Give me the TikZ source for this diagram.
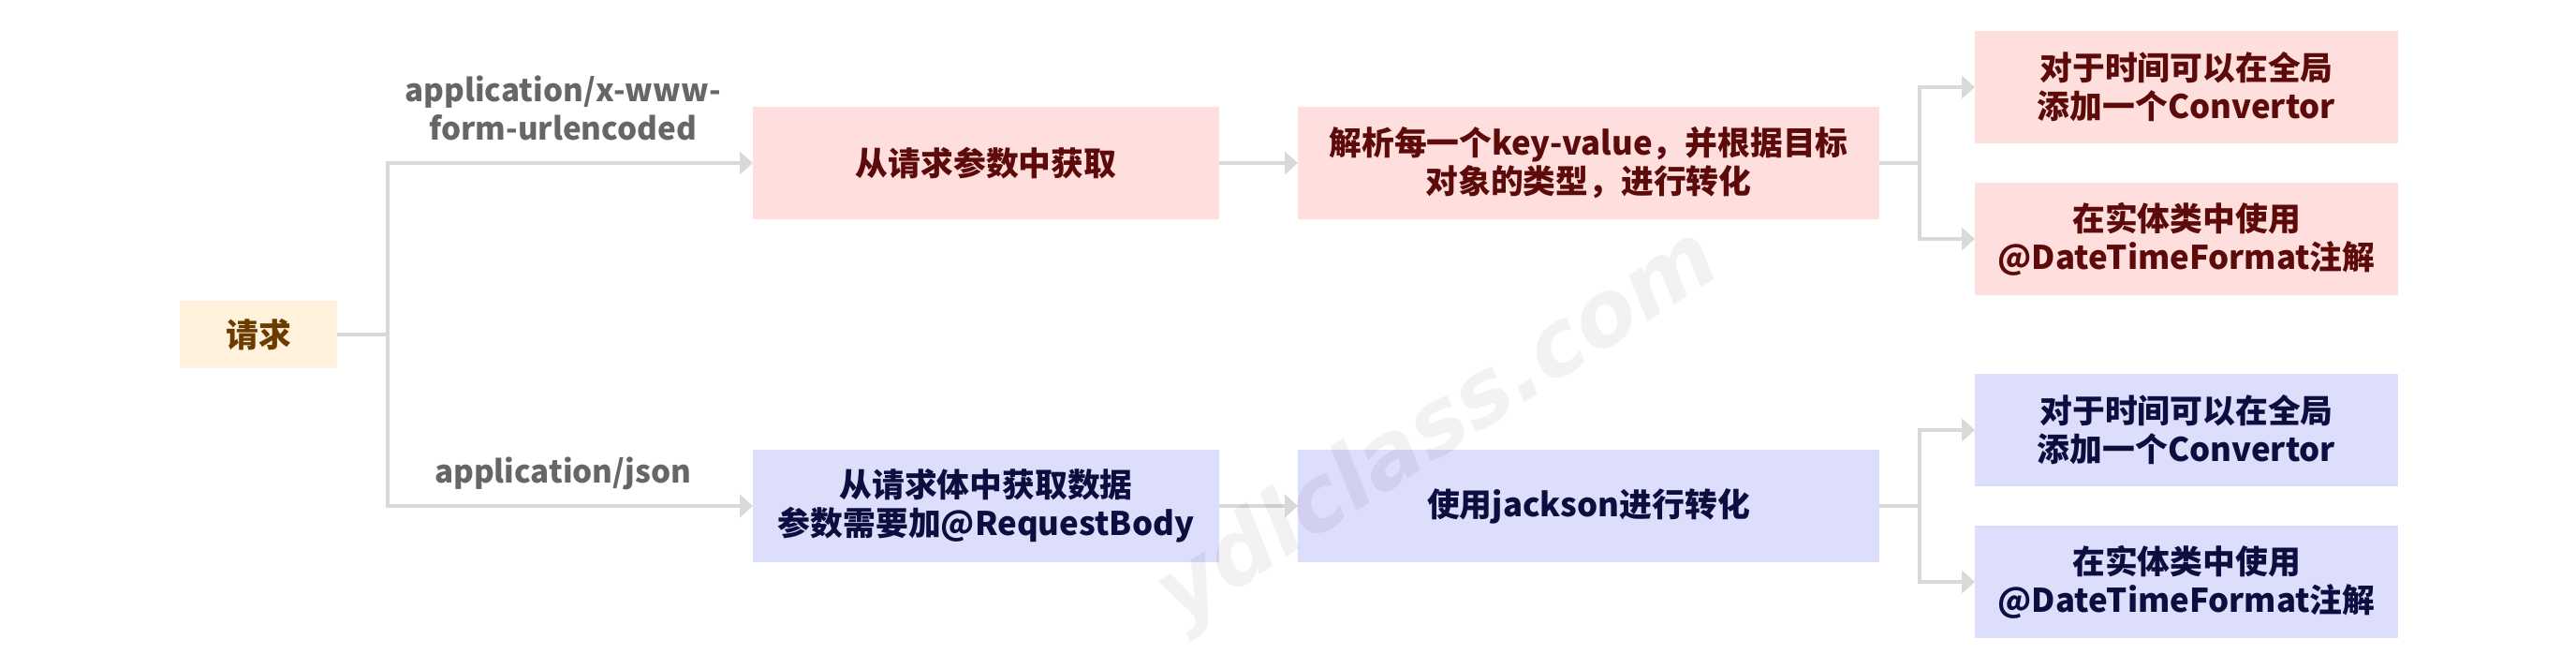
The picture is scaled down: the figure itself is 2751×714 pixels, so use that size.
\documentclass[tikz,border=0pt]{standalone}
\usepackage{fontspec}
\setmainfont{Noto Sans CJK SC}
\newfontfamily\markfont{DejaVu Sans}
\usepackage{tikz}
\usetikzlibrary{arrows.meta,positioning}
\definecolor{pinkfill}{HTML}{FFDFDD}
\definecolor{pinktext}{HTML}{5C0A0A}
\definecolor{bluefill}{HTML}{DDDDFC}
\definecolor{bluetext}{HTML}{0D0D40}
\definecolor{reqfill}{HTML}{FFF1DC}
\definecolor{reqtext}{HTML}{6B3B00}
\definecolor{linegray}{HTML}{D9D9D9}
\definecolor{lblgray}{HTML}{666666}
\tikzset{basic/.style={rectangle,outer sep=0pt,inner sep=0pt,align=center,font=\fontsize{8.7pt}{10.3pt}\selectfont\bfseries}}
\tikzset{reqbox/.style={basic,fill=reqfill,text=reqtext,minimum width=42pt,minimum height=18pt}}
\tikzset{pinkbox/.style={basic,fill=pinkfill,text=pinktext,minimum height=30pt}}
\tikzset{bluebox/.style={basic,fill=bluefill,text=bluetext,minimum height=30pt}}
\tikzset{sidebox/.style={minimum width=113pt}}
\tikzset{link/.style={draw=linegray,line width=0.8pt}}
\tikzset{arrow/.style={link,-{Triangle[length=3.5pt,width=6pt]}}}
\tikzset{lbl/.style={text=lblgray,align=center,inner sep=5.5pt,font=\fontsize{8.3pt}{10.3pt}\selectfont\bfseries}}

\begin{document}
\begin{tikzpicture}[x=0.25pt,y=-0.25pt]
    \useasboundingbox (0,0) rectangle (2751,714);

    \node[reqbox] (q) at (276,357) {请求};

    \node[pinkbox,minimum width=124.5pt] (p1) at (1053,174) {从请求参数中获取};
    \node[pinkbox,minimum width=155.25pt,right=21pt of p1] (p2) {解析每一个key-value，并根据目标\\对象的类型，进行转化};
    \node[bluebox,minimum width=124.5pt] (b1) at (1053,540) {从请求体中获取数据\\参数需要加@RequestBody};
    \node[bluebox,minimum width=155.25pt,right=21pt of b1] (b2) {使用jackson进行转化};

    \node[pinkbox,sidebox] (p3) at (2335,93) {对于时间可以在全局\\添加一个Convertor};
    \node[pinkbox,sidebox] (p4) at (2335,255) {在实体类中使用\\@DateTimeFormat注解};
    \node[bluebox,sidebox] (b3) at (2335,459) {对于时间可以在全局\\添加一个Convertor};
    \node[bluebox,sidebox] (b4) at (2335,621) {在实体类中使用\\@DateTimeFormat注解};

    \coordinate (j0) at (414,357);
    \coordinate (jp) at (2050,174);
    \coordinate (jb) at (2050,540);

        \path[link] (q) -- (j0);
        \path[arrow] (j0) |- node[lbl,pos=0.74,above] {application/x-www-\\form-urlencoded} (p1);
        \path[arrow] (j0) |- node[lbl,pos=0.74,above,inner sep=4pt] {application/json} (b1);
        \path[arrow] (p1) -- (p2);
        \path[arrow] (b1) -- (b2);
        \path[link] (p2) -- (jp);
        \path[arrow] (jp) |- (p3);
        \path[arrow] (jp) |- (p4);
        \path[link] (b2) -- (jb);
        \path[arrow] (jb) |- (b3);
        \path[arrow] (jb) |- (b4);

    \node[rotate=33,text=black,text opacity=0.05,font=\markfont\fontsize{24pt}{26pt}\selectfont\bfseries\itshape] (wm) at (1537,458) {ydlclass.com};
\end{tikzpicture}
\end{document}
